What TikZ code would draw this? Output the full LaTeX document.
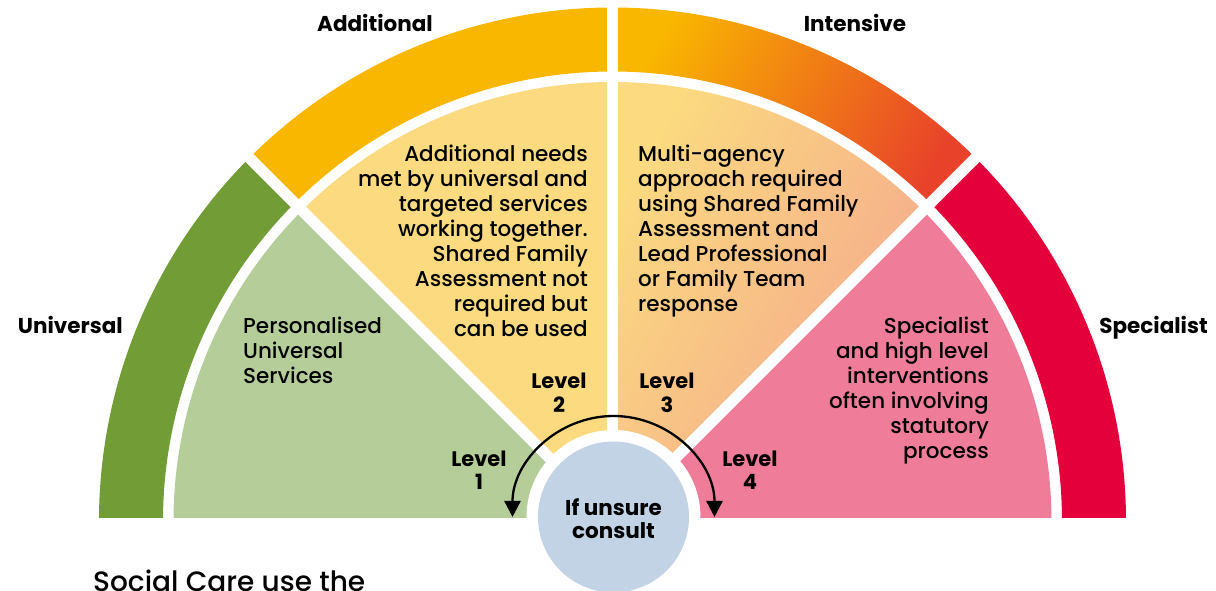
\documentclass[tikz,border=0pt]{standalone}
\usepackage{fontspec}
\setmainfont{Poppins}[UprightFont=* Medium, BoldFont=* Bold]
\usetikzlibrary{arrows.meta}

\definecolor{univdark}{HTML}{719C36}
\definecolor{univlight}{HTML}{B5CD99}
\definecolor{adddark}{HTML}{F9B700}
\definecolor{addlight}{HTML}{FBDA80}
\definecolor{intdark}{HTML}{E8432A}
\definecolor{intlight}{HTML}{F4A48E}
\definecolor{specdark}{HTML}{E4003A}
\definecolor{speclight}{HTML}{EF7D9A}
\definecolor{consultblue}{HTML}{C3D3E6}

\begin{document}
\begin{tikzpicture}[x=1pt,y=1pt,
    band/.style={font=\fontsize{21.5}{25}\selectfont\bfseries, inner sep=0pt},
    body/.style={font=\fontsize{21.5}{25}\selectfont, inner sep=0pt},
    level/.style={font=\fontsize{21}{23.5}\selectfont\bfseries, align=center, inner sep=0pt},
    gap/.style={white, line width=11pt}]
  \useasboundingbox (-612.5,-70) rectangle (603.5,521);

  \begin{scope}
    \clip (-620,3) rectangle (620,530);
    % outer bands
    \foreach \a/\c in {135/univdark, 90/adddark, 0/specdark}
      \fill[\c] (\a:513.5) arc[start angle=\a, delta angle=45, radius=513.5]
        -- (\a+45:449.5) arc[start angle=\a+45, delta angle=-45, radius=449.5] -- cycle;
    \shade[top color=adddark, bottom color=intdark, shading angle=60]
      (45:513.5) arc[start angle=45, end angle=90, radius=513.5]
      -- (90:449.5) arc[start angle=90, end angle=45, radius=449.5] -- cycle;
    % inner sectors
    \foreach \a/\c in {135/univlight, 90/addlight, 0/speclight}
      \fill[\c] (0,0) -- (\a:439) arc[start angle=\a, delta angle=45, radius=439] -- cycle;
    \shade[top color=addlight, bottom color=intlight, shading angle=60]
      (0,0) -- (45:439) arc[start angle=45, end angle=90, radius=439] -- cycle;
    % white gaps
    \foreach \a in {45,90,135}
      \draw[gap] (0,0) -- (\a:530);
  \end{scope}
  \fill[white] (1,4) circle[radius=87];
  \node[circle, fill=consultblue, minimum size=151pt, inner sep=0pt, align=center,
    text height=43pt, text depth=0pt,
    font=\fontsize{21.5}{23}\selectfont\bfseries] (consult) at (1,4) {If unsure\\consult};

  % arrows round the circle
  \coordinate (arrL) at (-100,4);
  \draw[line width=2.3pt, {Triangle[length=16pt,width=16pt]}-{Triangle[length=16pt,width=16pt]}]
    (arrL) arc[start angle=180, end angle=0, radius=101];

  % band titles
  \node[band, anchor=base west] (universal) at (-594.7,187.7) {Universal};
  \node[band, anchor=base] (additional) at (-237.5,489.3) {Additional};
  \node[band, anchor=base] (intensive) at (242.5,489.3) {Intensive};
  \node[band, anchor=base east] (specialist) at (595.5,187.7) {Specialist};

  % sector texts (base = last line)
  \node[body, anchor=base west, align=left] (txt1) at (-369.5,137.7)
    {Personalised\\Universal\\Services};
  \node[body, anchor=base east, align=right] (txt2) at (-24.5,184.3)
    {Additional needs\\met by universal and\\targeted services\\working together.\\Shared Family\\Assessment not\\required but\\can be used};
  \node[body, anchor=base west, align=left] (txt3) at (25.5,209.3)
    {Multi-agency\\approach required\\using Shared Family\\Assessment and\\Lead Professional\\or Family Team\\response};
  \node[body, anchor=base east, align=right] (txt4) at (376.5,62.7)
    {Specialist\\and high level\\interventions\\often involving\\statutory\\process};

  % levels
  \node[level, anchor=base] (lev1) at (-133.5,31) {Level\\1};
  \node[level, anchor=base] (lev2) at (-53.5,108.5) {Level\\2};
  \node[level, anchor=base] (lev3) at (54.5,108.5) {Level\\3};
  \node[level, anchor=base] (lev4) at (137.5,31) {Level\\4};

  \node[anchor=base west, inner sep=0pt, font=\fontsize{28}{32}\selectfont] (social) at (-519.5,-71)
    {Social Care use the};
\end{tikzpicture}
\end{document}
